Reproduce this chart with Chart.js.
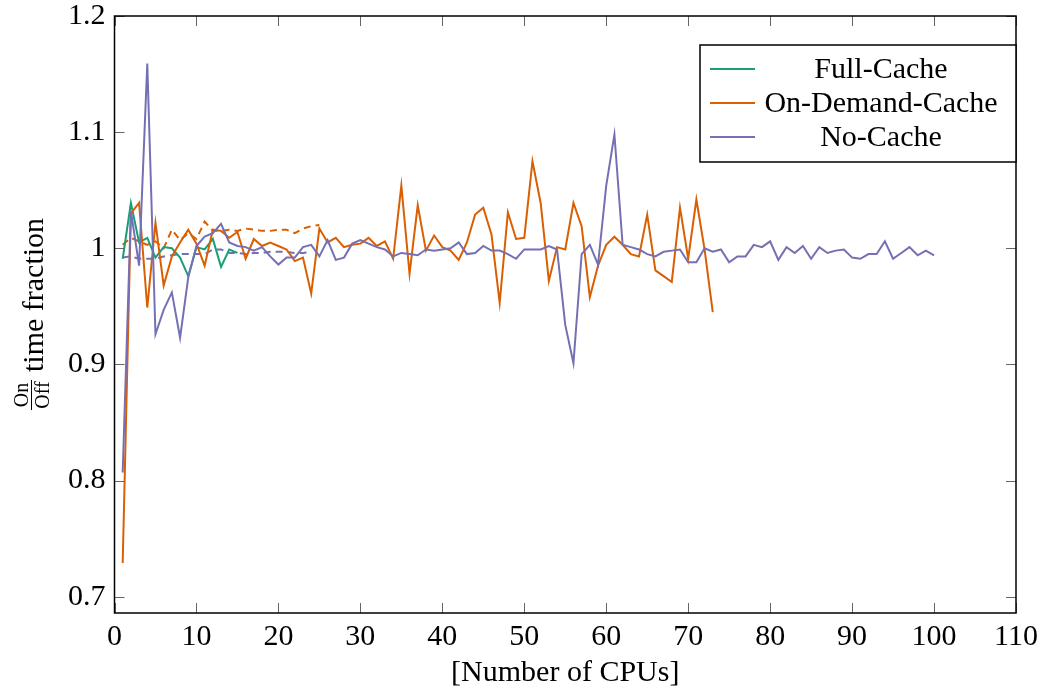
<!DOCTYPE html>
<html>
<head>
<meta charset="utf-8">
<script src="https://cdn.jsdelivr.net/npm/chart.js@4/dist/chart.umd.min.js"></script>
<style>
html,body{margin:0;padding:0;background:#fff;}
#wrap{width:1042px;height:691px;}
</style>
</head>
<body>
<div id="wrap"><canvas id="c" width="1042" height="691"></canvas></div>
<script>
// ---- data ----
const xTicks = [0,10,20,30,40,50,60,70,80,90,100,110];
const yTicks = [0.7,0.8,0.9,1.0,1.1,1.2];
const seriesNames = ["Full-Cache","On-Demand-Cache","No-Cache"];

const fullCache = [0.991,1.039,1.005,1.009,0.992,1.001,1.0,0.992,0.976,1.001,0.999,1.008,0.984,0.999,0.996];

const onDemandCache = [0.729,1.030,1.039,0.949,1.022,0.968,0.993,1.005,1.016,1.004,
  0.985,1.016,1.015,1.009,1.014,0.991,1.008,1.002,1.005,1.002,
  0.999,0.989,0.992,0.961,1.017,1.005,1.009,1.001,1.003,1.004,
  1.009,1.002,1.006,0.991,1.054,0.978,1.037,0.998,1.011,1.001,
  0.998,0.990,1.005,1.029,1.035,1.012,0.953,1.031,1.008,1.009,
  1.075,1.039,0.972,1.001,0.999,1.039,1.019,0.958,0.985,1.003,
  1.010,1.003,0.995,0.993,1.029,0.981,0.976,0.971,1.035,0.991,
  1.042,0.999,0.945];

const noCache = [0.807,1.032,0.985,1.159,0.926,0.947,0.962,0.923,0.975,1.002,
  1.010,1.013,1.021,1.005,1.002,1.001,0.998,1.001,0.993,0.986,
  0.992,0.992,1.001,1.003,0.993,1.007,0.990,0.992,1.004,1.007,
  1.004,1.001,0.999,0.993,0.996,0.995,0.994,0.999,0.998,0.999,
  1.000,1.005,0.995,0.996,1.002,0.998,0.998,0.995,0.991,0.999,
  0.999,0.999,1.002,0.999,0.934,0.901,0.995,1.003,0.986,1.054,
  1.098,1.003,1.001,0.999,0.995,0.993,0.997,0.998,0.999,0.988,
  0.988,1.000,0.997,0.999,0.988,0.993,0.993,1.003,1.001,1.006,
  0.990,1.001,0.996,1.002,0.991,1.001,0.996,0.998,0.999,0.992,
  0.991,0.995,0.995,1.006,0.991,0.996,1.001,0.994,0.998,0.994];

const onDemandDashed = [1.003,1.009,1.006,1.003,1.006,1.000,1.016,1.007,1.013,1.008,
  1.023,1.015,1.015,1.016,1.015,1.017,1.016,1.015,1.015,1.016,
  1.016,1.013,1.017,1.019,1.020];

const noCacheDashed = [0.992,0.993,0.991,0.991,0.991,0.993,0.994,0.995,0.995,0.995,
  0.995,0.999,0.999,0.996,0.996,0.995,0.996,0.996,0.997,0.997,
  0.997,0.996,0.996,0.997];

const colors = {green:"#1b9e77", orange:"#d95f02", purple:"#7570b3"};

// ---- helpers ----
const toPts = arr => arr.map((v,i)=>({x:i+1, y:v}));
const FONT = "'Liberation Serif', 'Times New Roman', serif";

const datasets = [
  {label:seriesNames[0], data:toPts(fullCache), borderColor:colors.green, order:2, legend:true},
  {label:seriesNames[1], data:toPts(onDemandCache), borderColor:colors.orange, order:1, legend:true},
  {label:seriesNames[2], data:toPts(noCache), borderColor:colors.purple, order:0, legend:true},
  {label:seriesNames[1]+" (dashed)", data:toPts(onDemandDashed), borderColor:colors.orange, borderDash:[7,5], order:3, legend:false},
  {label:seriesNames[2]+" (dashed)", data:toPts(noCacheDashed), borderColor:colors.purple, borderDash:[7,5], order:4, legend:false}
].map(d=>Object.assign({borderWidth:2, pointRadius:0, fill:false, tension:0, backgroundColor:d.borderColor}, d));

const framePlugin = {
  id:'frame',
  afterDraw(chart){
    const ctx = chart.ctx, a = chart.chartArea;
    const xs = chart.scales.x, ys = chart.scales.y;
    ctx.save();
    // tick marks (inside, all four sides)
    ctx.strokeStyle = '#666';
    ctx.lineWidth = 1;
    const tl = 10;
    xTicks.forEach(v=>{
      const px = Math.round(xs.getPixelForValue(v))+0.5;
      ctx.beginPath();
      ctx.moveTo(px,a.bottom); ctx.lineTo(px,a.bottom-tl);
      ctx.moveTo(px,a.top); ctx.lineTo(px,a.top+tl);
      ctx.stroke();
    });
    yTicks.forEach(v=>{
      const py = Math.round(ys.getPixelForValue(v))+0.5;
      ctx.beginPath();
      ctx.moveTo(a.left,py); ctx.lineTo(a.left+tl,py);
      ctx.moveTo(a.right,py); ctx.lineTo(a.right-tl,py);
      ctx.stroke();
    });
    // frame
    ctx.strokeStyle = '#000';
    ctx.lineWidth = 1.5;
    ctx.strokeRect(a.left, a.top, a.right-a.left, a.bottom-a.top);

    // legend
    const lx = 700, ly = 45, lw = 316, lh = 117;
    ctx.fillStyle = '#fff';
    ctx.fillRect(lx, ly, lw, lh);
    ctx.strokeStyle = '#000';
    ctx.lineWidth = 1.5;
    ctx.strokeRect(lx, ly, lw, lh);
    const items = chart.data.datasets.filter(d=>d.legend);
    ctx.font = "30px " + FONT;
    ctx.textAlign = 'center';
    ctx.textBaseline = 'middle';
    items.forEach((d,i)=>{
      const y = ly + 24 + i*34;
      ctx.strokeStyle = d.borderColor;
      ctx.lineWidth = 2;
      ctx.beginPath(); ctx.moveTo(710,y); ctx.lineTo(755,y); ctx.stroke();
      ctx.fillStyle = '#000';
      ctx.fillText(d.label, 881, y+1);
    });

    // y axis label with fraction
    ctx.translate(31, 395);
    ctx.rotate(-Math.PI/2);
    ctx.fillStyle = '#000';
    ctx.strokeStyle = '#000';
    ctx.lineWidth = 1;
    ctx.beginPath(); ctx.moveTo(-15,0.5); ctx.lineTo(15,0.5); ctx.stroke();
    ctx.font = "20px " + FONT;
    ctx.textAlign = 'center';
    ctx.textBaseline = 'alphabetic';
    ctx.fillText("On", 0, -3);
    ctx.textBaseline = 'top';
    ctx.fillText("Off", 0, 3);
    ctx.font = "30px " + FONT;
    ctx.textAlign = 'left';
    ctx.textBaseline = 'alphabetic';
    ctx.fillText("time fraction", 23, 12);
    ctx.restore();
  }
};

new Chart(document.getElementById('c'), {
  type:'line',
  data:{datasets},
  options:{
    responsive:false,
    devicePixelRatio:1,
    animation:false,
    layout:{padding:{top:16,right:26,left:0,bottom:0}},
    plugins:{legend:{display:false}, tooltip:{enabled:false}},
    scales:{
      x:{
        type:'linear', min:0, max:110,
        afterFit(s){ s.height = 78; s.paddingLeft = 0; s.paddingRight = 0; },
        afterBuildTicks(s){ s.ticks = xTicks.map(v=>({value:v})); },
        grid:{display:false, drawTicks:false},
        border:{display:false},
        ticks:{color:'#000', font:{family:FONT, size:30}, padding:6, maxRotation:0, autoSkip:false,
          callback:v=>String(v)},
        title:{display:true, text:'[Number of CPUs]', color:'#000', font:{family:FONT, size:30}, padding:{top:0,bottom:0}}
      },
      y:{
        type:'linear', min:0.686, max:1.2,
        afterFit(s){ s.width = 114.5; s.paddingTop = 0; s.paddingBottom = 0; },
        afterBuildTicks(s){ s.ticks = yTicks.map(v=>({value:v})); },
        grid:{display:false, drawTicks:false},
        border:{display:false},
        ticks:{color:'#000', font:{family:FONT, size:30}, padding:9, autoSkip:false,
          callback:v=>String(Math.round(v*10)/10)}
      }
    }
  },
  plugins:[framePlugin]
});
</script>
</body>
</html>
